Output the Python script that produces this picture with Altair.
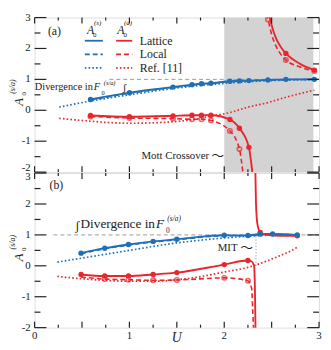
import altair as alt
import pandas as pd

# ---------------- values ----------------
# panel (a): symmetric channel A0^(s) (blue)
a_U_s = [0.59, 1.00, 1.46, 1.66, 1.76, 1.86, 2.06, 2.16, 2.26, 2.46, 2.65, 2.95]
a_s_lattice = [0.35, 0.57, 0.75, 0.83, 0.86, 0.875, 0.94, 0.95, 0.96, 0.98, 1.00, 1.00]
a_s_local = [0.33, 0.55, 0.74, 0.81, 0.85, 0.87, 0.93, 0.94, 0.955, 0.975, 0.99, 1.00]
a_U_sref = [0.26, 0.59, 1.00, 1.50, 2.00, 2.50, 3.00]
a_s_ref = [0.10, 0.30, 0.50, 0.72, 0.87, 0.96, 1.00]
# panel (a): antisymmetric channel A0^(a) (red)
a_U_alat_lo = [0.59, 1.00, 1.46, 1.66, 1.76, 1.86, 2.06, 2.16, 2.26, 2.30]
a_a_lat_lo = [-0.17, -0.21, -0.18, -0.16, -0.16, -0.16, -0.30, -0.58, -1.20, -2.10]
a_U_aloc_lo = [0.59, 1.00, 1.46, 1.66, 1.76, 1.86, 2.06, 2.16, 2.20]
a_a_loc_lo = [-0.20, -0.25, -0.27, -0.29, -0.29, -0.33, -0.67, -1.25, -2.10]
a_U_alat_hi = [2.475, 2.50, 2.55, 2.60, 2.65, 2.80, 2.95]
a_a_lat_hi = [3.10, 2.75, 2.30, 2.03, 1.84, 1.50, 1.30]
a_U_aloc_hi = [2.435, 2.46, 2.50, 2.55, 2.60, 2.65, 2.80, 2.95]
a_a_loc_hi = [3.10, 2.94, 2.45, 2.05, 1.80, 1.63, 1.40, 1.27]
a_U_aref = [0.26, 0.50, 0.75, 1.00, 1.36, 1.65, 1.90, 2.05, 2.25, 2.45, 2.65, 2.95]
a_a_ref = [-0.26, -0.33, -0.39, -0.42, -0.39, -0.31, -0.17, -0.08, 0.10, 0.24, 0.42, 0.65]
# dots of panel (a)
a_dot_U_lat_lo = [0.59, 1.00, 1.46, 1.66, 1.76, 1.86, 2.06, 2.16, 2.26]
a_dot_a_lat_lo = [-0.17, -0.21, -0.18, -0.16, -0.16, -0.16, -0.30, -0.58, -1.20]
a_dot_U_loc_lo = [0.59, 1.00, 1.46, 1.66, 1.76, 1.86, 2.06, 2.16]
a_dot_a_loc_lo = [-0.20, -0.25, -0.27, -0.29, -0.29, -0.33, -0.67, -1.25]
a_dot_U_lat_hi = [2.65, 2.95]
a_dot_a_lat_hi = [1.84, 1.30]
a_dot_U_loc_hi = [2.46, 2.65, 2.95]
a_dot_a_loc_hi = [2.94, 1.63, 1.27]
a_shade = [2.0, 2.94]

# panel (b)
b_U_s = [0.49, 0.74, 0.99, 1.25, 1.50, 2.00, 2.25, 2.38, 2.51, 2.77]
b_s_lattice = [0.41, 0.57, 0.69, 0.79, 0.86, 0.99, 0.98, 1.03, 1.03, 1.00]
b_s_local = [0.39, 0.55, 0.67, 0.77, 0.84, 0.97, 0.97, 1.01, 1.02, 1.00]
b_U_sref = [0.24, 0.50, 1.00, 1.50, 2.00, 2.40, 2.77]
b_s_ref = [0.12, 0.25, 0.50, 0.74, 0.90, 0.98, 1.00]
b_U_alat_lo = [0.49, 0.74, 0.99, 1.25, 1.50, 2.00, 2.25, 2.29, 2.315, 2.325, 2.33]
b_a_lat_lo = [-0.28, -0.33, -0.33, -0.28, -0.22, 0.04, 0.17, 0.14, 0.00, -1.00, -2.10]
b_U_alat_hi = [2.328, 2.335, 2.35, 2.38, 2.45, 2.60, 2.77]
b_a_lat_hi = [3.10, 2.00, 1.35, 1.08, 1.00, 0.97, 0.97]
b_U_aloc_lo = [0.49, 0.74, 0.99, 1.25, 1.50, 2.00, 2.25, 2.29, 2.30, 2.31]
b_a_loc_lo = [-0.36, -0.43, -0.45, -0.47, -0.46, -0.39, -0.48, -0.75, -1.40, -2.10]
b_U_aref = [0.24, 0.50, 0.75, 1.00, 1.25, 1.50, 1.75, 2.00, 2.25, 2.40, 2.55, 2.70, 2.77]
b_a_ref = [-0.34, -0.42, -0.47, -0.50, -0.50, -0.45, -0.35, -0.20, -0.05, 0.10, 0.28, 0.48, 0.60]
b_dot_U_lat = [0.49, 0.74, 0.99, 1.25, 1.50, 2.00, 2.25, 2.38, 2.77]
b_dot_a_lat = [-0.28, -0.33, -0.33, -0.28, -0.22, 0.04, 0.17, 1.08, 0.97]
b_dot_U_loc = [0.74, 0.99, 1.25, 1.50, 2.00, 2.25]
b_dot_a_loc = [-0.43, -0.45, -0.47, -0.46, -0.39, -0.48]
b_mit_U = 2.335

# axes ticks and tick labels
x_major = [0, 0.5, 1, 1.5, 2, 2.5, 3]
x_minor = [0.25, 0.75, 1.25, 1.75, 2.25, 2.75]
x_label_values = [0, 1, 2, 3]
x_label_text = ["0", "1", "2", "3"]
y_major = [-2, -1, 0, 1, 2, 3]
y_label_text = ["-2", "-1", "0", "1", "2", "3"]
y_minor = [-1.5, -0.5, 0.5, 1.5, 2.5]

# ---------------- styling ----------------
W, H = 289, 157
BLUE = "#1f6fb6"
RED = "#e8262d"
INK = "#222222"
GRAY = "#999999"
SERIF = "Liberation Serif"
DASH = [5, 3]
DOT = [1.6, 2.2]

xs = alt.Scale(domain=[0, 3], nice=False, zero=False)
ys = alt.Scale(domain=[-2, 3], nice=False, zero=False)
BLANK = alt.Axis(labels=False, ticks=False, domain=False, grid=False, title=None,
                 minExtent=0, maxExtent=0, titlePadding=0, labelPadding=0, offset=0)


def xenc(field="U"):
    return alt.X(f"{field}:Q", scale=xs, axis=BLANK)


def yenc(field="A"):
    return alt.Y(f"{field}:Q", scale=ys, axis=BLANK)


def xd(v):
    return alt.XDatum(v, scale=xs, axis=BLANK, type="quantitative")


def yd(v):
    return alt.YDatum(v, scale=ys, axis=BLANK, type="quantitative")


def line(U, A, color, dash=None, width=1.8):
    kw = dict(color=color, strokeWidth=width, interpolate="monotone", clip=True)
    if dash:
        kw["strokeDash"] = dash
    return alt.Chart(pd.DataFrame({"U": U, "A": A})).mark_line(**kw).encode(x=xenc(), y=yenc())


def dots(U, A, color, hollow=False):
    df = pd.DataFrame({"U": U, "A": A})
    if hollow:
        m = alt.Chart(df).mark_point(filled=False, color=color, size=20, strokeWidth=1.6, clip=True)
    else:
        m = alt.Chart(df).mark_circle(color=color, size=30, opacity=1, clip=True)
    return m.encode(x=xenc(), y=yenc())


def ticks():
    lay = []
    for vals, L in ((x_major, 6), (x_minor, 3)):
        df = pd.DataFrame({"U": vals})
        lay.append(alt.Chart(df).mark_rule(color=INK, strokeWidth=1.2).encode(
            x=xenc(), y=alt.value(H), y2=alt.value(H - L)))
        lay.append(alt.Chart(df).mark_rule(color=INK, strokeWidth=1.2).encode(
            x=xenc(), y=alt.value(0), y2=alt.value(L)))
    for vals, L in ((y_major, 12), (y_minor, 6)):
        df = pd.DataFrame({"A": vals})
        lay.append(alt.Chart(df).mark_rule(color=INK, strokeWidth=1.2).encode(
            y=yenc(), x=alt.value(0), x2=alt.value(L)))
        lay.append(alt.Chart(df).mark_rule(color=INK, strokeWidth=1.2).encode(
            y=yenc(), x=alt.value(W), x2=alt.value(W - L)))
    return lay


def ylabels(shift_value, dy):
    """tick labels; the one at shift_value is nudged off the panel boundary"""
    keep = [(v, t) for v, t in zip(y_major, y_label_text) if v != shift_value]
    moved = [(v, t) for v, t in zip(y_major, y_label_text) if v == shift_value]
    out = []
    for rows, d in ((keep, 0), (moved, dy)):
        df = pd.DataFrame({"A": [r[0] for r in rows], "lab": [r[1] for r in rows]})
        out.append(alt.Chart(df).mark_text(font=SERIF, fontSize=11, color=INK, align="right",
                                           baseline="middle", dy=d).encode(
            y=yenc(), x=alt.value(-4), text="lab:N"))
    return out


def xlabels():
    df = pd.DataFrame({"U": x_label_values, "lab": x_label_text})
    return alt.Chart(df).mark_text(font=SERIF, fontSize=11, color=INK, align="center",
                                   baseline="top").encode(
        x=xenc(), y=alt.value(H + 3), text="lab:N")


def txt(x, y, s, size=11, italic=False, align="center", font=SERIF, angle=0, px=False,
        color=INK, baseline="middle"):
    kw = dict(fontSize=size, font=font, align=align, baseline=baseline, color=color)
    if italic:
        kw["fontStyle"] = "italic"
    if angle:
        kw["angle"] = angle
    enc = dict(x=alt.value(x), y=alt.value(y)) if px else dict(x=xd(x), y=yd(y))
    return alt.Chart(pd.DataFrame({"s": [s]})).mark_text(**kw).encode(text="s:N", **enc)


def rule_d(x0, x1, y0, y1, **kw):
    enc = dict(x=xd(x0), y=yd(y0))
    if x1 is not None:
        enc["x2"] = alt.X2Datum(x1)
    if y1 is not None:
        enc["y2"] = alt.Y2Datum(y1)
    return alt.Chart(pd.DataFrame({"s": [0]})).mark_rule(**kw).encode(**enc)


def ytitle():
    return [
        txt(-16, H / 2 + 7, "A", size=13, italic=True, angle=270, px=True),
        txt(-11, H / 2 - 1, "0", size=7, angle=270, px=True),
        txt(-22, H / 2 - 1, "(s/a)", size=8, italic=True, align="left", angle=270, px=True),
    ]


def carrier():
    return alt.Chart(pd.DataFrame({"U": [0.0, 3.0], "A": [-2.0, 3.0]})).mark_point(
        opacity=0).encode(x=xenc(), y=yenc())


# ---------------- panel (a) ----------------
shade = alt.Chart(pd.DataFrame({"U": [a_shade[0]], "U2": [a_shade[1]]})).mark_rect(
    color="#d3d3d3").encode(x=xenc(), x2="U2:Q", y=alt.value(0), y2=alt.value(H))

layers_a = [
    carrier(), shade,
    rule_d(0.79, 3.0, 1.0, None, color=GRAY, strokeDash=[4, 3], strokeWidth=1),
    line(a_U_sref, a_s_ref, BLUE, DOT, 1.7),
    line(a_U_aref, a_a_ref, RED, DOT, 1.7),
    line(a_U_s, a_s_local, BLUE, DASH, 1.6),
    line(a_U_aloc_lo, a_a_loc_lo, RED, DASH, 1.6),
    line(a_U_aloc_hi, a_a_loc_hi, RED, DASH, 1.6),
    line(a_U_s, a_s_lattice, BLUE, None, 1.9),
    line(a_U_alat_lo, a_a_lat_lo, RED, None, 1.9),
    line(a_U_alat_hi, a_a_lat_hi, RED, None, 1.9),
    dots(a_dot_U_loc_lo, a_dot_a_loc_lo, RED, hollow=True),
    dots(a_dot_U_loc_hi, a_dot_a_loc_hi, RED, hollow=True),
    dots(a_U_s, a_s_lattice, BLUE),
    dots(a_dot_U_lat_lo, a_dot_a_lat_lo, RED),
    dots(a_dot_U_lat_hi, a_dot_a_lat_hi, RED),
    txt(0.21, 2.56, "(a)", size=12),
    txt(0.59, 2.60, "A", size=12, italic=True),
    txt(0.635, 2.42, "0", size=7),
    txt(0.665, 2.82, "(s)", size=7, italic=True),
    txt(0.91, 2.60, "A", size=12, italic=True),
    txt(0.955, 2.42, "0", size=7),
    txt(0.985, 2.82, "(a)", size=7, italic=True),
]
for yv, dash in ((2.25, None), (1.81, DASH), (1.375, DOT)):
    for x0, x1, col in ((0.53, 0.72, BLUE), (0.86, 1.03, RED)):
        kw = dict(color=col, strokeWidth=1.8)
        if dash:
            kw["strokeDash"] = dash
        layers_a.append(rule_d(x0, x1, yv, None, **kw))
layers_a += [
    txt(1.11, 2.25, "Lattice", size=12, align="left"),
    txt(1.11, 1.81, "Local", size=12, align="left"),
    txt(1.11, 1.375, "Ref. [11]", size=12, align="left"),
    txt(0.615, 0.74, "Divergence in", size=10.5, align="right"),
    txt(0.625, 0.74, "F", size=10.5, italic=True, align="left"),
    txt(0.705, 0.57, "0", size=6.5, align="left"),
    txt(0.73, 0.88, "(s/a)", size=6.5, italic=True, align="left"),
    txt(0.95, 0.73, "ʃ", size=11),
    txt(1.84, -1.49, "Mott Crossover", size=11, align="right"),
    txt(1.93, -1.47, "〜", size=13, font="Noto Sans CJK JP"),
]
layers_a += ticks() + ytitle() + ylabels(-2, -4)
panel_a = alt.layer(*layers_a).properties(width=W, height=H)

# ---------------- panel (b) ----------------
u_title = alt.Chart(pd.DataFrame({"s": ["U"]})).mark_text(
    font=SERIF, fontSize=14, fontStyle="italic", color=INK, baseline="middle").encode(
    x=xd(1.5), y=alt.value(H + 11), text="s:N")

layers_b = [
    carrier(),
    rule_d(0.2, 3.0, 1.0, None, color=GRAY, strokeDash=[4, 3], strokeWidth=1),
    rule_d(b_mit_U, None, 0.0, 1.0, color=GRAY, strokeDash=[1.2, 2], strokeWidth=1),
    line(b_U_sref, b_s_ref, BLUE, DOT, 1.7),
    line(b_U_aref, b_a_ref, RED, DOT, 1.7),
    line(b_U_s, b_s_local, BLUE, DASH, 1.6),
    line(b_U_aloc_lo, b_a_loc_lo, RED, DASH, 1.6),
    line(b_U_s, b_s_lattice, BLUE, None, 1.9),
    line(b_U_alat_lo, b_a_lat_lo, RED, None, 1.9),
    line(b_U_alat_hi, b_a_lat_hi, RED, None, 1.9),
    dots(b_dot_U_loc, b_dot_a_loc, RED, hollow=True),
    dots(b_dot_U_lat, b_dot_a_lat, RED),
    dots(b_U_s, b_s_lattice, BLUE),
    txt(0.23, 2.60, "(b)", size=12),
    txt(0.45, 1.30, "ʃ", size=13),
    txt(1.27, 1.34, "Divergence in", size=13.5, align="right"),
    txt(1.28, 1.34, "F", size=13.5, italic=True, align="left"),
    txt(1.385, 1.13, "0", size=7.5, align="left"),
    txt(1.40, 1.52, "(s/a)", size=7.5, italic=True, align="left"),
    txt(2.14, 0.57, "MIT", size=11, align="right"),
    txt(2.235, 0.59, "〜", size=13, font="Noto Sans CJK JP"),
    u_title,
]
layers_b += ticks() + ytitle() + ylabels(3, 4) + [xlabels()]
panel_b = alt.layer(*layers_b).properties(width=W, height=H)

chart = alt.vconcat(panel_a, panel_b, spacing=1, bounds="flush").properties(
    padding={"left": 0, "right": 0, "top": 0, "bottom": 0}
).configure_view(stroke=INK, strokeWidth=1.3).configure(background="white")

chart.save("out.html", embed_options={"renderer": "svg", "actions": False})
